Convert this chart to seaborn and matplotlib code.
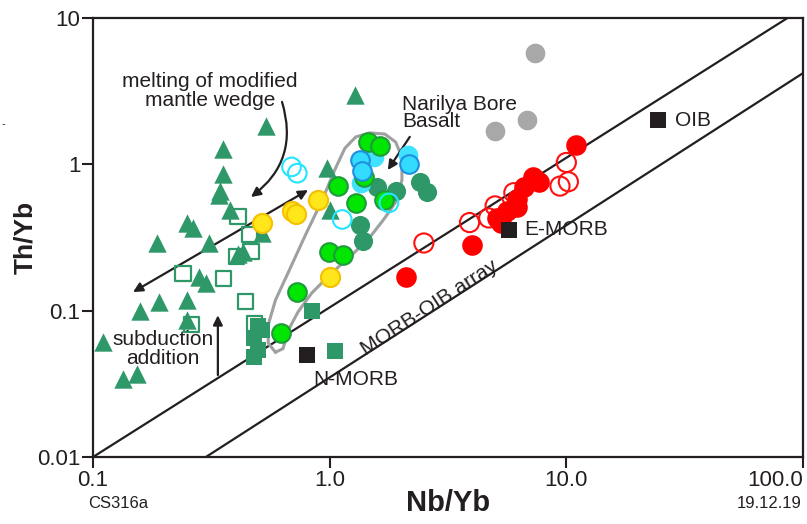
import numpy as np
import matplotlib
matplotlib.use("Agg")
import matplotlib.pyplot as plt
from matplotlib.ticker import NullLocator, FixedLocator, FixedFormatter
import seaborn as sns

# ---- data (Nb/Yb, Th/Yb) ----
# arc samples: triangles, open/filled squares
tri_x = [1.28, 0.54, 0.354, 0.354, 0.344, 0.34, 0.38, 0.25, 0.265, 0.186, 0.31, 0.52,
         0.28, 0.30, 0.41, 0.43, 0.158, 0.19, 0.25, 0.25, 0.11, 0.134, 0.153, 0.97, 1.0]
tri_y = [2.97, 1.83, 1.27, 0.86, 0.66, 0.62, 0.49, 0.40, 0.37, 0.29, 0.29, 0.34,
         0.17, 0.155, 0.245, 0.25, 0.10, 0.115, 0.118, 0.086, 0.061, 0.034, 0.037, 0.94, 0.49]
open_sq_x = [0.41, 0.46, 0.465, 0.405, 0.24, 0.355, 0.44, 0.48, 0.26]
open_sq_y = [0.44, 0.33, 0.255, 0.235, 0.18, 0.165, 0.115, 0.082, 0.08]
fill_sq_x = [0.84, 1.05, 0.50, 0.48, 0.50, 0.48, 0.52]
fill_sq_y = [0.10, 0.053, 0.078, 0.065, 0.054, 0.048, 0.074]

# reference compositions
ref_names = ['N-MORB', 'E-MORB', 'OIB']
ref_x = [0.80, 5.7, 24.4]
ref_y = [0.050, 0.355, 2.0]

grey_x = [7.4, 6.8, 5.0]
grey_y = [5.8, 2.0, 1.7]

red_x = [11.0, 7.2, 7.7, 6.6, 6.2, 6.2, 5.6, 5.1, 5.3, 4.0, 2.1, 7.4]
red_y = [1.35, 0.82, 0.76, 0.70, 0.58, 0.51, 0.48, 0.43, 0.40, 0.28, 0.17, 0.80]
red_open_x = [10.0, 10.2, 9.4, 6.0, 5.0, 4.7, 3.9, 2.5]
red_open_y = [1.03, 0.76, 0.71, 0.64, 0.52, 0.43, 0.40, 0.29]

# Narilya Bore Basalt group
cyan_open_x = [0.69, 0.73, 1.13, 1.78]
cyan_open_y = [0.96, 0.87, 0.42, 0.545]
cyan_x = [1.34, 1.37, 2.16]
cyan_y = [1.07, 0.90, 1.0]
cyan_light_x = [1.35, 1.54, 2.14]
cyan_light_y = [0.745, 1.12, 1.16]
lime_x = [1.45, 1.63, 1.08, 1.29, 1.70, 0.99, 1.14, 0.73, 0.62, 1.40]
lime_y = [1.42, 1.33, 0.71, 0.54, 0.57, 0.25, 0.24, 0.134, 0.07, 0.82]
dkgreen_x = [1.58, 1.9, 2.4, 2.58, 1.34, 1.38]
dkgreen_y = [0.70, 0.66, 0.76, 0.65, 0.385, 0.30]
yellow_x = [0.52, 0.69, 0.72, 0.89, 1.0]
yellow_y = [0.40, 0.48, 0.46, 0.57, 0.17]

# Narilya Bore field outline
field_x = [0.59, 0.55, 0.55, 0.59, 0.67, 0.79, 0.93, 1.05, 1.16, 1.29, 1.48, 1.71, 1.9,
           2.02, 2.02, 1.9, 1.71, 1.48, 1.24, 1.02, 0.84, 0.735, 0.67, 0.635, 0.59]
field_y = [0.052, 0.060, 0.080, 0.118, 0.184, 0.329, 0.57, 0.914, 1.29, 1.54, 1.64, 1.61, 1.42,
           1.12, 0.78, 0.552, 0.43, 0.318, 0.24, 0.181, 0.132, 0.098, 0.074, 0.055, 0.052]

# MORB-OIB array boundaries
array_upper_x = [0.1, 86.0]
array_upper_y = [0.01, 10.0]
array_lower_x = [0.3, 100.0]
array_lower_y = [0.01, 4.2]

xticks = [0.1, 1, 10, 100]
xtick_labels = ['0.1', '1.0', '10.0', '100.0']
yticks = [0.01, 0.1, 1, 10]
ytick_labels = ['0.01', '0.1', '1', '10']

# ---- style ----
sns.set_style('ticks')
plt.rcParams['font.family'] = ['Liberation Sans', 'DejaVu Sans']
ink = '#231f20'
seagreen = '#2e9868'

fig = plt.figure(figsize=(8.07, 5.24), dpi=100)
ax = fig.add_axes([93 / 807, 1 - 457 / 524, 710 / 807, 439 / 524])
ax.set_xscale('log')
ax.set_yscale('log')
ax.set_xlim(0.1, 100)
ax.set_ylim(0.01, 10)

# array lines and field outline
sns.lineplot(x=array_upper_x, y=array_upper_y, color=ink, lw=1.6, ax=ax, zorder=1)
sns.lineplot(x=array_lower_x, y=array_lower_y, color=ink, lw=1.6, ax=ax, zorder=1)
ax.plot(field_x, field_y, color='#a0a0a0', lw=2.2, solid_joinstyle='round', zorder=2)


def pts(x, y, marker, s, fc, ec, lw, z):
    sns.scatterplot(x=x, y=y, marker=marker, s=s, color=fc, edgecolor=ec,
                    linewidth=lw, legend=False, ax=ax, zorder=z)


def open_pts(x, y, marker, s, ec, lw, z):
    sns.scatterplot(x=x, y=y, marker=marker, s=s, facecolors='none', edgecolor=ec,
                    linewidth=lw, legend=False, ax=ax, zorder=z)


pts(tri_x, tri_y, '^', 175, seagreen, seagreen, 0, 3)
open_pts(open_sq_x, open_sq_y, 's', 120, seagreen, 1.6, 3)
pts(fill_sq_x, fill_sq_y, 's', 120, seagreen, seagreen, 0, 3)
pts(dkgreen_x, dkgreen_y, 'o', 190, seagreen, seagreen, 0, 4)
pts(cyan_light_x, cyan_light_y, 'o', 200, '#3fe3ff', '#3fe3ff', 0, 4)
pts(lime_x, lime_y, 'o', 180, '#00e600', '#1f9a3c', 1.5, 5)
pts(cyan_x, cyan_y, 'o', 180, '#33dcff', '#1f8fe0', 1.5, 6)
open_pts(cyan_open_x, cyan_open_y, 'o', 180, '#22e5ff', 1.5, 6)
pts(yellow_x, yellow_y, 'o', 190, '#ffe61a', '#f5c000', 1.5, 6)
pts(grey_x, grey_y, 'o', 200, '#a8a8a8', '#a8a8a8', 0, 4)
open_pts(red_open_x, red_open_y, 'o', 190, '#ff1010', 1.5, 5)
pts(red_x, red_y, 'o', 220, '#ff0000', '#ff0000', 0, 5)
pts(ref_x, ref_y, 's', 120, ink, ink, 0, 6)

# reference labels
ax.text(0.85, 0.034, ref_names[0], fontsize=15, color=ink, ha='left', va='center')
ax.text(6.62, 0.356, ref_names[1], fontsize=15, color=ink, ha='left', va='center')
ax.text(28.8, 2.0, ref_names[2], fontsize=15, color=ink, ha='left', va='center')
ax.text(2.65, 0.104, 'MORB-OIB array', fontsize=15, color=ink, rotation=33,
        ha='center', va='center', rotation_mode='anchor')

# annotations
ax.text(0.312, 3.15, 'melting of modified\nmantle wedge', fontsize=15, color=ink,
        ha='center', va='center', linespacing=1.0)
ax.annotate('', xy=(0.465, 0.598), xytext=(0.629, 2.67),
            arrowprops=dict(arrowstyle='-|>', color=ink, lw=1.6, mutation_scale=14,
                            connectionstyle='arc3,rad=-0.35', shrinkA=0, shrinkB=0))
ax.annotate('', xy=(0.81, 0.667), xytext=(0.1476, 0.134),
            arrowprops=dict(arrowstyle='<|-|>', color=ink, lw=1.6, mutation_scale=14,
                            shrinkA=0, shrinkB=0), zorder=2)
ax.text(0.198, 0.055, 'subduction\naddition', fontsize=15, color=ink,
        ha='center', va='center', linespacing=1.0)
ax.annotate('', xy=(0.337, 0.093), xytext=(0.337, 0.0363),
            arrowprops=dict(arrowstyle='-|>', color=ink, lw=1.6, mutation_scale=14,
                            shrinkA=0, shrinkB=0))
ax.text(2.02, 2.24, 'Narilya Bore\nBasalt', fontsize=15, color=ink,
        ha='left', va='center', linespacing=0.9)
ax.annotate('', xy=(1.76, 0.914), xytext=(2.18, 1.54),
            arrowprops=dict(arrowstyle='-|>', color=ink, lw=1.6, mutation_scale=14,
                            shrinkA=0, shrinkB=0))

# axes
ax.xaxis.set_major_locator(FixedLocator(xticks))
ax.xaxis.set_major_formatter(FixedFormatter(xtick_labels))
ax.yaxis.set_major_locator(FixedLocator(yticks))
ax.yaxis.set_major_formatter(FixedFormatter(ytick_labels))
ax.xaxis.set_minor_locator(NullLocator())
ax.yaxis.set_minor_locator(NullLocator())
ax.tick_params(direction='out', length=8, width=1.5, labelsize=16, colors=ink, pad=1)
for sp in ax.spines.values():
    sp.set_color(ink)
    sp.set_linewidth(1.6)
# last x label would run off the figure edge; right-align it like the reference
ax.get_xticklabels()[-1].set_horizontalalignment('right')

ax.set_xlabel('Nb/Yb', fontsize=21, fontweight='bold', color=ink)
ax.set_ylabel('Th/Yb', fontsize=19, fontweight='bold', color=ink)
ax.xaxis.set_label_coords(0.5, -0.072)
ax.yaxis.set_label_coords(-0.078, 0.5)

fig.text(88 / 807, 1 - 503 / 524, 'CS316a', fontsize=12, color=ink, va='center')
fig.text(802 / 807, 1 - 503 / 524, '19.12.19', fontsize=12, color=ink, va='center', ha='right')
fig.text(2 / 807, 1 - 124 / 524, '-', fontsize=8, color=ink, va='center')

fig.savefig('out.png', dpi=100)
